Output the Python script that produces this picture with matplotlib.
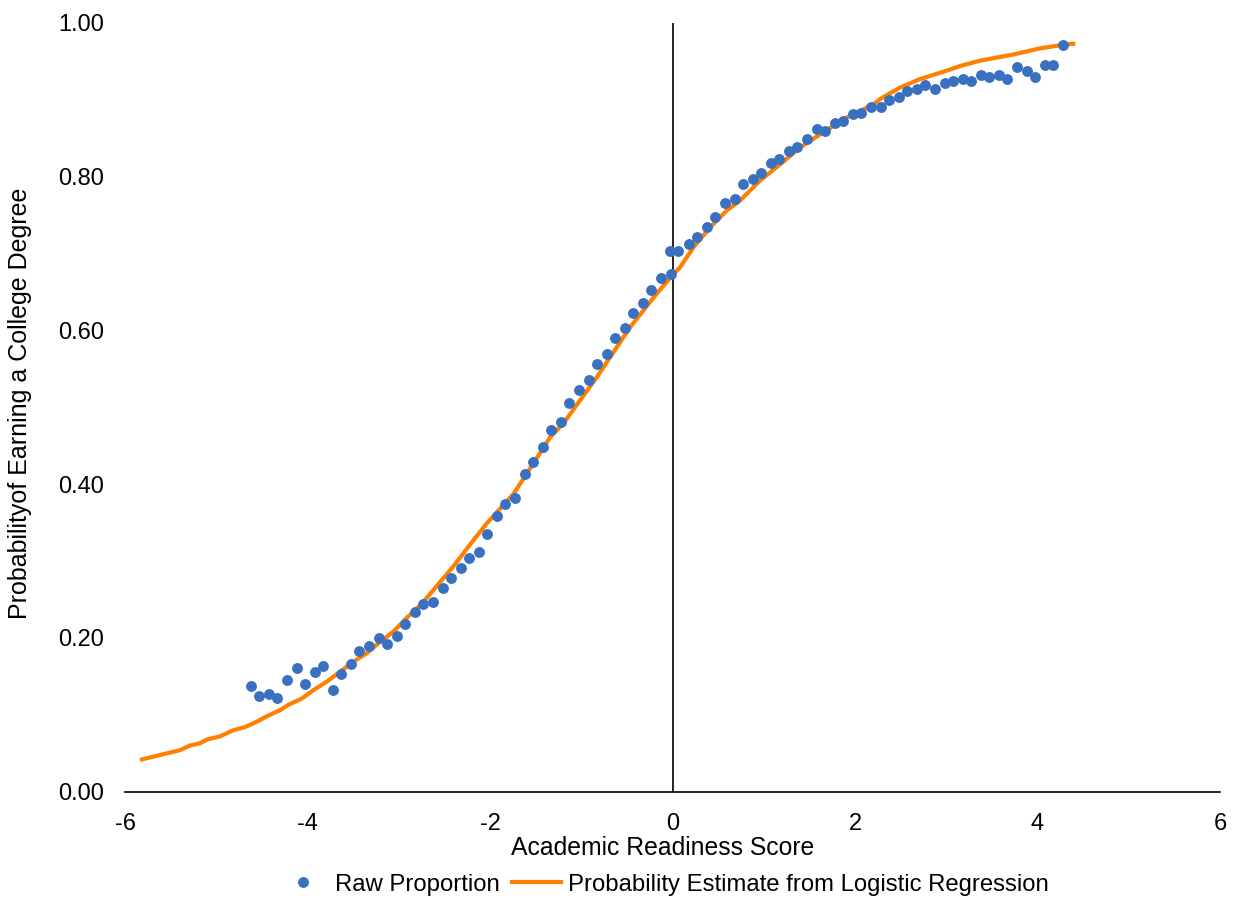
import matplotlib.pyplot as plt

plt.rcParams['font.family'] = ['Liberation Sans', 'DejaVu Sans']
plt.rcParams['font.size'] = 17

# raw proportions
raw_x = [-4.622, -4.535, -4.425, -4.338, -4.228, -4.118, -4.031, -3.921, -3.833, -3.724,
         -3.636, -3.527, -3.439, -3.329, -3.220, -3.132, -3.022, -2.935, -2.825, -2.738,
         -2.628, -2.518, -2.431, -2.321, -2.233, -2.124, -2.036, -1.927, -1.839, -1.729,
         -1.620, -1.532, -1.422, -1.335, -1.225, -1.138, -1.028, -0.918, -0.831, -0.721,
         -0.633, -0.524, -0.436, -0.327, -0.239, -0.129, -0.020, -0.025, 0.055, 0.178,
         0.265, 0.375, 0.462, 0.572, 0.682, 0.769, 0.879, 0.967, 1.076, 1.164,
         1.273, 1.361, 1.471, 1.580, 1.668, 1.778, 1.865, 1.975, 2.062, 2.172,
         2.282, 2.373, 2.479, 2.573, 2.676, 2.764, 2.873, 2.983, 3.071, 3.180,
         3.268, 3.378, 3.465, 3.575, 3.662, 3.772, 3.882, 3.969, 4.079, 4.167,
         4.276]
raw_y = [0.138, 0.125, 0.127, 0.122, 0.145, 0.161, 0.140, 0.156, 0.164, 0.132,
         0.153, 0.166, 0.183, 0.190, 0.200, 0.192, 0.203, 0.218, 0.234, 0.244,
         0.247, 0.265, 0.278, 0.291, 0.304, 0.312, 0.335, 0.358, 0.374, 0.382,
         0.413, 0.429, 0.449, 0.470, 0.481, 0.506, 0.522, 0.535, 0.556, 0.569,
         0.590, 0.603, 0.623, 0.636, 0.652, 0.668, 0.673, 0.704, 0.704, 0.712,
         0.722, 0.735, 0.748, 0.766, 0.771, 0.790, 0.797, 0.805, 0.818, 0.823,
         0.834, 0.839, 0.849, 0.862, 0.860, 0.870, 0.873, 0.881, 0.883, 0.891,
         0.891, 0.900, 0.904, 0.912, 0.914, 0.919, 0.914, 0.922, 0.925, 0.927,
         0.925, 0.932, 0.930, 0.932, 0.927, 0.943, 0.938, 0.930, 0.945, 0.945,
         0.971]

# logistic regression estimate
fit_x = [-5.814, -5.397, -5.288, -5.178, -5.098, -4.959, -4.813, -4.685, -4.557, -4.447,
         -4.301, -4.210, -4.064, -3.936, -3.790, -3.644, -3.498, -3.351, -3.205, -3.060,
         -2.913, -2.786, -2.694, -2.402, -2.183, -2.036, -1.745, -1.525, -1.342, -1.197,
         -0.831, -0.466, -0.173, 0.0, 0.082, 0.228, 0.411, 0.594, 0.740, 0.959,
         1.178, 1.397, 1.616, 1.909, 2.201, 2.274, 2.493, 2.712, 3.005, 3.151,
         3.370, 3.735, 4.027, 4.247, 4.392]
fit_y = [0.042, 0.054, 0.060, 0.063, 0.068, 0.072, 0.080, 0.084, 0.091, 0.098,
         0.106, 0.113, 0.121, 0.132, 0.143, 0.156, 0.169, 0.180, 0.195, 0.208,
         0.226, 0.240, 0.252, 0.293, 0.327, 0.349, 0.387, 0.427, 0.461, 0.479,
         0.539, 0.604, 0.648, 0.672, 0.682, 0.708, 0.734, 0.756, 0.769, 0.795,
         0.816, 0.838, 0.855, 0.877, 0.894, 0.901, 0.916, 0.927, 0.938, 0.944,
         0.951, 0.959, 0.967, 0.971, 0.973]

fig = plt.figure(figsize=(12.34, 8.98), dpi=100)
ax = fig.add_axes([0.1013, 0.1184, 0.8874, 0.856])

ax.plot(raw_x, raw_y, 'o', color='#3A70C0', markersize=6.8, label='Raw Proportion', zorder=3)
ax.plot(fit_x, fit_y, '-', color='#FF8000', linewidth=3, label='Probability Estimate from Logistic Regression', zorder=2)
ax.axvline(0, color='black', linewidth=1.2, zorder=1)

ax.set_xlim(-6, 6)
ax.set_ylim(0, 1)
ax.set_xticks([-6, -4, -2, 0, 2, 4, 6])
ax.set_xticklabels(['-6', '-4', '-2', '0', '2', '4', '6'])
ax.set_yticks([0, 0.2, 0.4, 0.6, 0.8, 1.0])
ax.set_yticklabels(['0.00', '0.20', '0.40', '0.60', '0.80', '1.00'])
ax.tick_params(axis='both', length=0, pad=15)

for s in ['top', 'right', 'left']:
    ax.spines[s].set_visible(False)
ax.spines['bottom'].set_linewidth(1.2)
ax.spines['bottom'].set_color('black')

ax.set_xlabel('Academic Readiness Score', fontsize=17.8)
ax.xaxis.set_label_coords(0.491, -0.058)
fig.text(20 / 1234, 1 - 403 / 898, 'Probabilityof Earning a College Degree',
         rotation=90, ha='center', va='center', fontsize=18)

ax.legend(loc='center', bbox_to_anchor=(0.492, -0.121), ncol=2, frameon=False,
          handlelength=2.05, columnspacing=0.5, handletextpad=0.3, fontsize=17.2)

plt.savefig('out.png', dpi=100)
